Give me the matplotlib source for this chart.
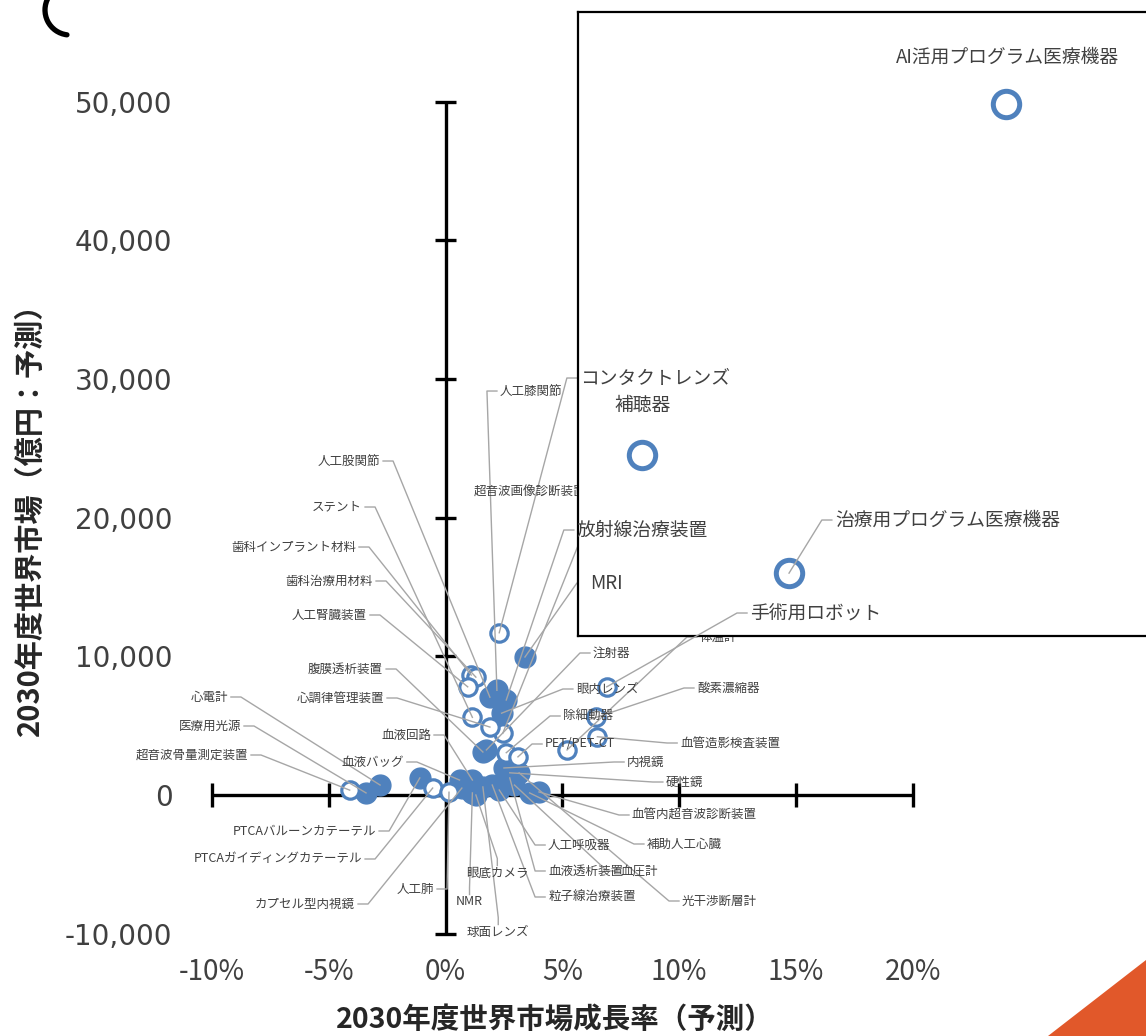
import matplotlib
matplotlib.use("Agg")
import matplotlib.pyplot as plt
from matplotlib.patches import Arc, Polygon
from matplotlib.ticker import FuncFormatter

plt.rcParams['font.family'] = ['Noto Sans CJK JP', 'DejaVu Sans']
plt.rcParams['axes.unicode_minus'] = False

BLUE = '#4F81BD'
GRAY = '#A6A6A6'
DARK = '#404040'

x_ticks = [-10, -5, 0, 5, 10, 15, 20]
y_ticks = [-10000, 0, 10000, 20000, 30000, 40000, 50000]

# 2030年度予測: 成長率(%) / 世界市場(億円)  --- 白抜きマーカー
hollow_names = ['コンタクトレンズ', '超音波画像診断装置', '歯科インプラント材料', '歯科治療用材料',
                '人工腎臓装置', 'ステント', '心調律管理装置', '除細動器', 'PET/PET-CT',
                '手術用ロボット', '酸素濃縮器', '血管造影検査装置', '体温計',
                '超音波骨量測定装置', 'PTCAガイディングカテーテル', '人工肺']
hollow_growth = [2.3, 2.45, 1.1, 1.3, 0.95, 1.15, 1.9, 2.6, 3.1,
                 6.9, 6.45, 6.5, 5.2, -4.1, -0.55, 0.15]
hollow_market = [11700, 4450, 8650, 8500, 7800, 5600, 4900, 3050, 2750,
                 7800, 5600, 4200, 3250, 350, 500, 200]

# 塗りつぶしマーカー
solid_names = ['MRI', '人工股関節', '人工膝関節', '放射線治療装置', '眼内レンズ', '腹膜透析装置',
               '注射器', '血液回路', '内視鏡', '硬性鏡', '光干渉断層計', '血液バッグ', '球面レンズ',
               'NMR', '眼底カメラ', '人工呼吸器', '粒子線治療装置', '補助人工心臓',
               '血管内超音波診断装置', '医療用光源', '心電計', 'PTCAバルーンカテーテル',
               'カプセル型内視鏡', '血液透析装置', '血圧計']
solid_growth = [3.4, 1.9, 2.2, 2.6, 2.4, 1.6, 1.75, 1.15, 2.5, 2.75, 3.15, 0.6, 1.6,
                1.15, 1.3, 2.3, 2.0, 3.6, 4.0, -3.4, -2.8, -1.1, 0.7, 2.75, 2.95]
solid_market = [9950, 7050, 7550, 6850, 5900, 3100, 3250, 1080, 1950, 1600, 1600, 1080, 580,
                150, 0, 360, 720, 150, 220, 150, 720, 1230, 500, 1230, 720]

# 拡大枠に載せる品目
zoom_names = ['AI活用プログラム医療機器', '補聴器', '治療用プログラム医療機器']
zoom_growth = [24.0, 8.4, 14.7]
zoom_market = [49800, 24500, 16000]

# ラベル配置: 名前 -> (x, y, 揃え, 引出線の出る側)
main_labels = {
    '人工股関節': (-2.80, 24085, 'right', 'right'),
    'ステント': (-3.57, 20768, 'right', 'right'),
    '歯科インプラント材料': (-3.83, 17883, 'right', 'right'),
    '歯科治療用材料': (-3.10, 15432, 'right', 'right'),
    '人工腎臓装置': (-3.36, 12980, 'right', 'right'),
    '腹膜透析装置': (-2.67, 9086, 'right', 'right'),
    '心調律管理装置': (-2.63, 6995, 'right', 'right'),
    '血液回路': (-0.62, 4327, 'right', 'right'),
    '血液バッグ': (-1.78, 2380, 'right', 'right'),
    '心電計': (-9.31, 7067, 'right', 'right'),
    '医療用光源': (-8.75, 4976, 'right', 'right'),
    '超音波骨量測定装置': (-8.45, 2884, 'right', 'right'),
    'PTCAバルーンカテーテル': (-2.97, -2596, 'right', 'right'),
    'PTCAガイディングカテーテル': (-3.57, -4615, 'right', 'right'),
    'カプセル型内視鏡': (-3.87, -7860, 'right', 'right'),
    '人工肺': (-0.49, -6778, 'right', 'right'),
    'NMR': (0.45, -7716, 'left', 'top'),
    '眼底カメラ': (0.88, -5625, 'left', 'top'),
    '球面レンズ': (0.92, -9879, 'left', 'top'),
    '人工膝関節': (2.33, 29132, 'left', 'left'),
    '超音波画像診断装置': (1.22, 21849, 'left', 'right'),
    '注射器': (6.31, 10240, 'left', 'left'),
    '眼内レンズ': (5.58, 7644, 'left', 'left'),
    '除細動器': (5.03, 5697, 'left', 'left'),
    'PET/PET-CT': (4.26, 3678, 'left', 'left'),
    '内視鏡': (7.77, 2380, 'left', 'left'),
    '硬性鏡': (9.43, 937, 'left', 'left'),
    '酸素濃縮器': (10.76, 7716, 'left', 'left'),
    '血管造影検査装置': (10.04, 3750, 'left', 'left'),
    '体温計': (10.89, 11393, 'left', 'left'),
    '血管内超音波診断装置': (7.98, -1442, 'left', 'left'),
    '補助人工心臓': (8.62, -3533, 'left', 'left'),
    '人工呼吸器': (4.39, -3606, 'left', 'left'),
    '血液透析装置': (4.39, -5480, 'left', 'left'),
    '血圧計': (7.47, -5480, 'left', 'left'),
    '粒子線治療装置': (4.39, -7355, 'left', 'left'),
    '光干渉断層計': (10.12, -7644, 'left', 'left'),
}

# 拡大枠のラベル: 名前 -> (x, y, 揃え, 引出線: None / 'main' = 枠の外側 / 'box' = 枠内)
zoom_labels = {
    'AI活用プログラム医療機器': (24.03, 53224, 'center', None),
    'コンタクトレンズ': (5.75, 30070, 'left', 'main'),
    '補聴器': (8.45, 28123, 'center', None),
    '放射線治療装置': (5.62, 19109, 'left', 'main'),
    'MRI': (6.18, 15287, 'left', 'main'),
    '治療用プログラム医療機器': (16.66, 19830, 'left', 'box'),
    '手術用ロボット': (13.03, 13124, 'left', 'box'),
}

points = {}
for n, gx, my in zip(hollow_names, hollow_growth, hollow_market):
    points[n] = (gx, my)
for n, gx, my in zip(solid_names, solid_growth, solid_market):
    points[n] = (gx, my)
for n, gx, my in zip(zoom_names, zoom_growth, zoom_market):
    points[n] = (gx, my)

W, H = 1146, 1036
fig = plt.figure(figsize=(W / 100, H / 100), dpi=100)

# pixel layout of the plotting area (origin and scale)
PX0, PXS = 445.5, 23.37
PY0, PYS = 795.0, 0.013867
xlim = (-11.3, 21.5)
ylim = (-11500, 52000)
left_px = PX0 + PXS * xlim[0]
right_px = PX0 + PXS * xlim[1]
top_px = PY0 - PYS * ylim[1]
bottom_px = PY0 - PYS * ylim[0]
ax = fig.add_axes([left_px / W, (H - bottom_px) / H,
                   (right_px - left_px) / W, (bottom_px - top_px) / H])
ax.set_xlim(*xlim)
ax.set_ylim(*ylim)
for s in ax.spines.values():
    s.set_visible(False)

ax.set_xticks(x_ticks)
ax.set_yticks(y_ticks)
ax.xaxis.set_major_formatter(FuncFormatter(lambda v, p: f"{v:.0f}%"))
ax.yaxis.set_major_formatter(FuncFormatter(lambda v, p: f"{v:,.0f}"))
ax.tick_params(axis='both', length=0, labelcolor=DARK)
ax.tick_params(axis='y', pad=6.5, labelsize=20)
ax.tick_params(axis='x', pad=1.5, labelsize=20)
for lab in ax.get_yticklabels():
    lab.set_family('DejaVu Sans')

# crossing axes through the origin with "+" ticks
ax.plot([x_ticks[0], x_ticks[-1]], [0, 0], color='black', lw=2.4, zorder=2,
        solid_capstyle='butt')
ax.plot([0, 0], [y_ticks[0], y_ticks[-1]], color='black', lw=2.4, zorder=2,
        solid_capstyle='butt')
ax.vlines(x_ticks, -850, 850, color='black', lw=2.4, zorder=2)
ax.hlines(y_ticks, -0.45, 0.45, color='black', lw=2.4, zorder=2)

ax.plot(solid_growth, solid_market, 'o', ls='none', ms=15, mfc=BLUE, mec=BLUE, zorder=3)
ax.plot(hollow_growth, hollow_market, 'o', ls='none', ms=12.5, mfc='white', mec=BLUE,
        mew=2.3, zorder=3)

main_texts = {}
for name, (tx, ty, ha, side) in main_labels.items():
    main_texts[name] = ax.text(tx, ty, name, ha=ha, va='center', fontsize=9,
                               color=DARK, zorder=5)

# enlarged box in the upper right
inset = fig.add_axes([578 / W, (H - 636) / H, (1152 - 578) / W, (636 - 12) / H])
inset.set_xticks([])
inset.set_yticks([])
for s in inset.spines.values():
    s.set_linewidth(1.6)
    s.set_color('black')
box = inset.get_position().transformed(fig.transFigure)
inv = ax.transData.inverted()
(ix0, iy0), (ix1, iy1) = inv.transform([box.p0, box.p1])
inset.set_xlim(ix0, ix1)
inset.set_ylim(iy0, iy1)
inset.plot(zoom_growth, zoom_market, 'o', ls='none', ms=19, mfc='white', mec=BLUE,
           mew=3.6, zorder=3)

zoom_texts = {}
for name, (tx, ty, ha, where) in zoom_labels.items():
    zoom_texts[name] = inset.text(tx, ty, name, ha=ha, va='center', fontsize=13.5,
                                  color=DARK, zorder=5, clip_on=True)

fig.text(555 / W, 1 - 1020 / H, '2030年度世界市場成長率（予測）', fontsize=20.5,
         fontweight='bold', ha='center', va='center', color='#262626')
fig.text(30 / W, 1 - 512 / H, '2030年度世界市場（億円：予測）', fontsize=21,
         fontweight='bold', ha='center', va='center', rotation=90, color='#262626')

# leader lines: short horizontal stub next to the label, then straight to the point
fig.canvas.draw()
renderer = fig.canvas.get_renderer()


def leader(axis, label, target, side, clip=True):
    bb = label.get_window_extent(renderer)
    ym = (bb.y0 + bb.y1) / 2
    xm = (bb.x0 + bb.x1) / 2
    if side == 'right':
        path = [(bb.x1 + 3, ym), (bb.x1 + 13, ym)]
    elif side == 'left':
        path = [(bb.x0 - 3, ym), (bb.x0 - 13, ym)]
    else:
        path = [(xm, bb.y1 + 1), (xm, bb.y1 + 8)]
    path.append(tuple(axis.transData.transform(target)))
    pts = axis.transData.inverted().transform(path)
    axis.plot(pts[:, 0], pts[:, 1], color=GRAY, lw=1.0, zorder=4, clip_on=clip)


for name, (tx, ty, ha, side) in main_labels.items():
    leader(ax, main_texts[name], points[name], side)
for name, (tx, ty, ha, where) in zoom_labels.items():
    if where == 'main':
        leader(ax, zoom_texts[name], points[name], 'left')
    elif where == 'box':
        leader(inset, zoom_texts[name], points[name], 'left', clip=False)

# slide decorations
deco = fig.add_axes([0, 0, 1, 1], zorder=10)
deco.set_xlim(0, W)
deco.set_ylim(H, 0)
deco.axis('off')
deco.patch.set_alpha(0)
deco.add_patch(Arc((70, 10), 50, 50, theta1=97, theta2=210, lw=3.8, color='black',
                   capstyle='round'))
deco.add_patch(Polygon([(1048, H), (W, H), (W, 960)], closed=True, color='#E1582A', lw=0))

fig.savefig('out.png', dpi=100, facecolor='white')
